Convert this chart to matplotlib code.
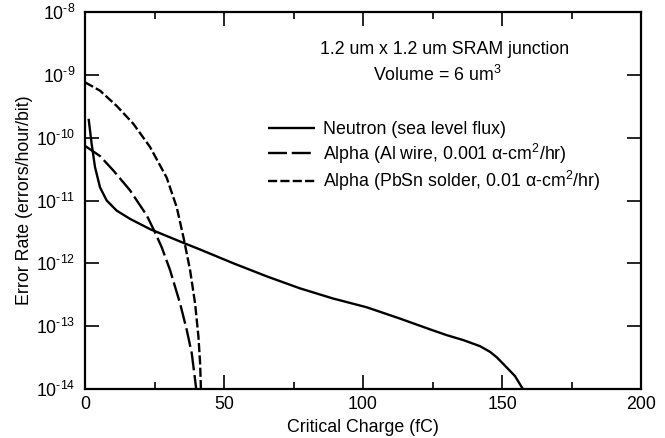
import matplotlib
matplotlib.use('Agg')
import matplotlib.pyplot as plt

# ---- data ----
neutron_q = [1.3, 2.4, 3.6, 5.4, 7.8, 11.4, 16.2, 23.4, 35.6, 41.4, 53.4,
             65.4, 77.3, 89.3, 101.3, 113.3, 124.1, 130.1, 136.1, 142.1, 145.7,
             148.1, 151.7, 154.7, 157.1, 157.5]
neutron_rate = [2.0e-10, 7.9e-11, 3.4e-11, 1.62e-11, 1.0e-11, 6.9e-12, 5.1e-12, 3.5e-12,
                2.1e-12, 1.66e-12, 1.0e-12, 6.2e-13, 4.0e-13, 2.75e-13, 2.0e-13,
                1.32e-13, 8.9e-14, 7.2e-14, 6.0e-14, 4.8e-14, 3.9e-14,
                3.2e-14, 2.2e-14, 1.6e-14, 1.07e-14, 1.0e-14]

al_q = [0, 5.4, 10.2, 16.2, 22.2, 25.2, 27.6, 30.6, 34.2, 36.6, 38.4, 39.6, 40.0]
al_rate = [7.4e-11, 5.1e-11, 3.0e-11, 1.45e-11, 5.8e-12, 3.1e-12, 1.8e-12, 7.8e-13,
           2.3e-13, 8.7e-14, 3.7e-14, 1.4e-14, 1.0e-14]

pbsn_q = [0, 5.4, 11.4, 17.4, 23.4, 29.4, 33.0, 35.5, 37.8, 39.6, 40.8, 41.4, 41.7]
pbsn_rate = [7.6e-10, 5.6e-10, 3.2e-10, 1.66e-10, 7.1e-11, 2.3e-11, 7.8e-12, 2.5e-12,
             7.8e-13, 2.3e-13, 6.8e-14, 2.6e-14, 1.0e-14]

labels = ['Neutron (sea level flux)',
          r'Alpha (Al wire, 0.001 $\alpha$-cm$^{2}$/hr)',
          r'Alpha (PbSn solder, 0.01 $\alpha$-cm$^{2}$/hr)']

x_ticks = [0, 50, 100, 150, 200]
x_minor = [25, 75, 125, 175]
y_ticks = [1e-14, 1e-13, 1e-12, 1e-11, 1e-10, 1e-9, 1e-8]
y_ticklabels = [r'$10^{\text{-14}}$', r'$10^{\text{-13}}$', r'$10^{\text{-12}}$',
                r'$10^{\text{-11}}$', r'$10^{\text{-10}}$', r'$10^{\text{-9}}$',
                r'$10^{\text{-8}}$']

# ---- style ----
plt.rcParams['font.family'] = ['Liberation Sans', 'DejaVu Sans']
plt.rcParams['mathtext.fontset'] = 'custom'
plt.rcParams['mathtext.rm'] = 'Liberation Sans'
plt.rcParams['mathtext.it'] = 'Liberation Sans'
plt.rcParams['mathtext.sf'] = 'Liberation Sans'
plt.rcParams['lines.scale_dashes'] = False

FS = 12.8
FSPX = FS * 100 / 72
fig = plt.figure(figsize=(6.65, 4.38), dpi=100)
ax = fig.add_axes([85/665, 1 - 389/438, (641-85)/665, (389-12)/438])

lw = 1.7
common = dict(color='black', lw=lw, solid_joinstyle='round', dash_joinstyle='round',
              solid_capstyle='butt', dash_capstyle='butt')
ax.plot(neutron_q, neutron_rate, label=labels[0], **common)
ax.plot(al_q, al_rate, dashes=(13.7, 3.4), label=labels[1], **common)
ax.plot(pbsn_q, pbsn_rate, dashes=(6.6, 2.3), label=labels[2], **common)

ax.set_yscale('log')
ax.set_xlim(0, 200)
ax.set_ylim(1e-14, 1e-8)
ax.set_xticks(x_ticks)
ax.set_xticks(x_minor, minor=True)
ax.set_yticks(y_ticks)
ax.set_yticklabels(y_ticklabels)
ax.yaxis.set_minor_locator(matplotlib.ticker.NullLocator())
ax.tick_params(which='both', direction='in', top=True, right=True, width=1.2,
               labelsize=FS, color='black')
ax.tick_params(which='major', length=10)
ax.tick_params(which='minor', length=5)
ax.tick_params(axis='y', pad=7)
ax.tick_params(axis='x', pad=5)
for s in ax.spines.values():
    s.set_linewidth(1.6)

ax.set_xlabel('Critical Charge (fC)', fontsize=FS)
ax.set_ylabel('Error Rate (errors/hour/bit)', fontsize=FS)
ax.xaxis.set_label_coords((363 - 85) / 556, (389 - 428) / 377)
ax.yaxis.set_label_coords((25 - 85) / 556, 0.5)
ax.xaxis.label.set_va('center')
ax.yaxis.label.set_va('center')

ax.text(444.5/665, 1 - 50/438, '1.2 um x 1.2 um SRAM junction', transform=fig.transFigure,
        ha='center', va='center', fontsize=FS)
ax.text(437.5/665, 1 - 75/438, r'Volume = 6 um$^{3}$', transform=fig.transFigure,
        ha='center', va='center', fontsize=FS)

leg = ax.legend(loc='upper left', bbox_to_anchor=(268/665, 1 - 121/438),
                bbox_transform=fig.transFigure, frameon=False, fontsize=FS,
                handlelength=47/FSPX, handletextpad=8/FSPX, borderpad=0,
                borderaxespad=0, labelspacing=0.2)

fig.savefig('out.png', dpi=100)
